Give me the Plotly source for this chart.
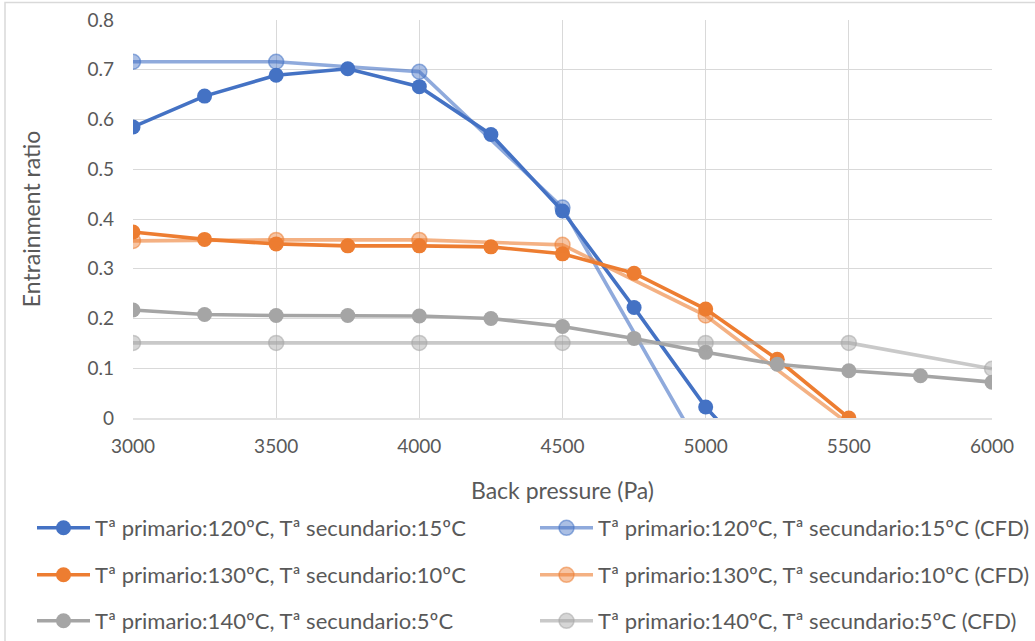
import plotly.graph_objects as go

# ---- data ----
x_exp = [3000, 3250, 3500, 3750, 4000, 4250, 4500, 4750, 5000, 5250, 5500, 5750, 6000]
x_cfd = [3000, 3500, 4000, 4500, 5000, 5500, 6000]

blue_exp = [0.585, 0.647, 0.689, 0.702, 0.666, 0.570, 0.416, 0.222, 0.022, -0.135]
blue_cfd = [0.716, 0.716, 0.696, 0.423, -0.08]
orange_exp = [0.374, 0.359, 0.350, 0.346, 0.346, 0.344, 0.330, 0.291, 0.219, 0.118, 0.0]
orange_cfd = [0.356, 0.358, 0.358, 0.348, 0.206, -0.012]
grey_exp = [0.217, 0.208, 0.206, 0.206, 0.205, 0.200, 0.184, 0.160, 0.132, 0.108, 0.095, 0.085, 0.072]
grey_cfd = [0.151, 0.151, 0.151, 0.151, 0.151, 0.151, 0.099]

names = [
    "Tª primario:120ºC, Tª secundario:15ºC",
    "Tª primario:120ºC, Tª secundario:15ºC (CFD)",
    "Tª primario:130ºC, Tª secundario:10ºC",
    "Tª primario:130ºC, Tª secundario:10ºC (CFD)",
    "Tª primario:140ºC, Tª secundario:5ºC",
    "Tª primario:140ºC, Tª secundario:5ºC (CFD)",
]

BLUE = (68, 114, 196)
ORANGE = (237, 125, 49)
GREY = (165, 165, 165)

FONT = "Lato, 'Open Sans', sans-serif"
TXT = "#595959"

def rgba(c, a):
    return f"rgba({c[0]},{c[1]},{c[2]},{a})"

series = [
    (x_exp, blue_exp, BLUE, False),
    (x_cfd, blue_cfd, BLUE, True),
    (x_exp, orange_exp, ORANGE, False),
    (x_cfd, orange_cfd, ORANGE, True),
    (x_exp, grey_exp, GREY, False),
    (x_cfd, grey_cfd, GREY, True),
]

L, T, R, B = 133, 20, 43, 223
W, H = 1035, 641
pw, ph = W - L - R, H - T - B

def px_x(p):
    return (p - L) / pw

def px_y(p):
    return (H - B - p) / ph

fig = go.Figure()
legend_ids = ["legend", "legend2", "legend3", "legend4", "legend5", "legend6"]
col_x = [32, 535]
row_y = [528, 575, 621]
legends = {}
for i, ((xs, ys, col, cfd), nm) in enumerate(zip(series, names)):
    xs = xs[:len(ys)]
    if cfd:
        lc = rgba(col, 0.6)
        mc = rgba(col, 0.45)
        ml = dict(color=rgba(col, 0.55), width=1.5)
    else:
        lc = rgba(col, 1)
        mc = rgba(col, 1)
        ml = dict(color=rgba(col, 1), width=0)
    lg = legend_ids[i]
    fig.add_trace(go.Scatter(
        x=xs, y=ys, name=nm, mode="lines+markers",
        line=dict(color=lc, width=3.6),
        marker=dict(size=15, color=mc, line=ml),
        cliponaxis=True, legend=lg, showlegend=True,
    ))
    legends[lg] = dict(
        orientation="h", font=dict(family=FONT, size=22, color=TXT),
        itemwidth=53, bgcolor="rgba(0,0,0,0)",
        xanchor="left", yanchor="middle",
        x=px_x(col_x[i % 2]), y=px_y(row_y[i // 2]),
    )

fig.update_layout(
    width=W, height=H, showlegend=True,
    margin=dict(l=L, r=R, t=T, b=B, autoexpand=False),
    paper_bgcolor="white", plot_bgcolor="white",
    font=dict(family=FONT, size=19, color=TXT),
    xaxis=dict(
        range=[3000, 6000], dtick=500, tick0=3000,
        showgrid=True, gridcolor="#D9D9D9", gridwidth=1.3,
        zeroline=False, showline=False, automargin=False,
        ticks="", ticklabelstandoff=15,
        tickfont=dict(family=FONT, size=19, color=TXT),
        title=dict(text="Back pressure (Pa)", standoff=26,
                   font=dict(family=FONT, size=23, color=TXT)),
    ),
    yaxis=dict(
        range=[0, 0.8], dtick=0.1, tick0=0,
        showgrid=True, gridcolor="#D9D9D9", gridwidth=1.3,
        zeroline=False, showline=False, automargin=False,
        ticks="", ticklabelstandoff=18,
        tickformat="~g",
        tickfont=dict(family=FONT, size=19, color=TXT),
        title=dict(text="Entrainment ratio", standoff=40,
                   font=dict(family=FONT, size=23, color=TXT)),
    ),
    shapes=[
        dict(type="line", xref="paper", yref="paper",
             x0=px_x(133), x1=px_x(992), y0=px_y(419), y1=px_y(419),
             line=dict(color="#D9D9D9", width=1.5), layer="below"),
        dict(type="rect", xref="paper", yref="paper",
             x0=px_x(5), x1=px_x(1060), y0=px_y(2.5), y1=px_y(700),
             line=dict(color="#D9D9D9", width=1.5)),
    ],
)
fig.update_layout(**legends)

fig.write_html("out.html")
